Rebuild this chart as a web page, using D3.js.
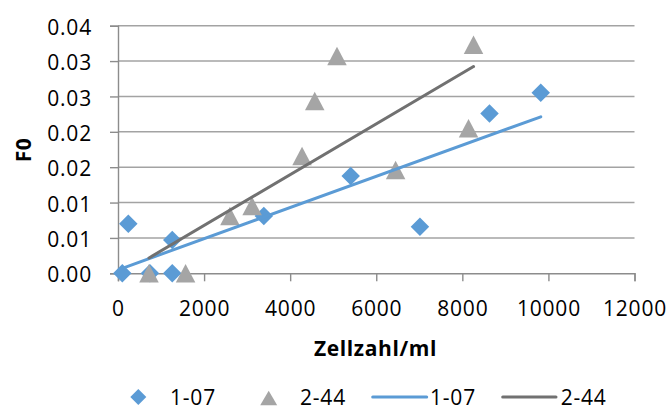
<!DOCTYPE html>
<html>
<head>
<meta charset="utf-8">
<script src="https://cdn.jsdelivr.net/npm/d3@7"></script>
<style>
  html, body { margin: 0; padding: 0; background: #fff; }
  svg { display: block; }
  text { font-family: "Open Sans", "Noto Sans", sans-serif; fill: #000; }
</style>
</head>
<body>
<svg id="chart" width="670" height="410"></svg>
<script>
// ---- data ----
const series1Name = "1-07";
const series1X = [100, 240, 742, 1260, 1260, 3388, 5406, 7015, 8631, 9822];
const series1Y = [0, 0.0070, 0, 0.0047, 0, 0.0081, 0.01376, 0.00659, 0.0226, 0.02553];

const series2Name = "2-44";
const series2X = [720, 1570, 2600, 3116, 4276, 4571, 5088, 6450, 8144, 8260];
const series2Y = [0, 0, 0.0081, 0.0095, 0.01658, 0.02436, 0.0307, 0.0146, 0.0205, 0.0323];

const xTickValues = [0, 2000, 4000, 6000, 8000, 10000, 12000];
const xTickLabels = ["0", "2000", "4000", "6000", "8000", "10000", "12000"];
const yTickValues = [0, 0.005, 0.01, 0.015, 0.02, 0.025, 0.03, 0.035];
const yTickLabels = ["0.00", "0.01", "0.01", "0.02", "0.02", "0.03", "0.03", "0.04"];

const xTitle = "Zellzahl/ml";
const yTitle = "F0";

// ---- layout ----
const svg = d3.select("#chart");
const pLeft = 118, pRight = 634.5, pTop = 25.7, pBottom = 273.3;
const x = d3.scaleLinear().domain([0, 12000]).range([pLeft, pRight]);
const y = d3.scaleLinear().domain([0, 0.035]).range([pBottom, pTop]);

const blue = "#5B9BD5", grayMarker = "#A5A5A5", grayLine = "#717171";
const gridColor = "#A3A3A3", axisColor = "#8C8C8C";
const fontSize = 21, ls = "0.8px";

// gridlines
svg.append("g").selectAll("line").data(yTickValues.slice(1)).join("line")
  .attr("x1", pLeft).attr("x2", pRight)
  .attr("y1", d => y(d)).attr("y2", d => y(d))
  .attr("stroke", gridColor).attr("stroke-width", 1.4);

// y axis
const yAxis = svg.append("g").attr("transform", `translate(${pLeft},0)`)
  .call(d3.axisLeft(y).tickValues(yTickValues).tickSize(8)
    .tickFormat((d, i) => yTickLabels[i]));
yAxis.select(".domain").attr("stroke", axisColor).attr("stroke-width", 1.4);
yAxis.selectAll(".tick line").attr("stroke", axisColor).attr("stroke-width", 1.4);
yAxis.selectAll(".tick text")
  .attr("x", -26).attr("dy", null).attr("y", 8.6)
  .style("font-family", '"Open Sans", sans-serif')
  .style("font-size", fontSize + "px").style("letter-spacing", ls)
  .attr("fill", "#000");

// x axis
const xAxis = svg.append("g").attr("transform", `translate(0,${pBottom})`)
  .call(d3.axisBottom(x).tickValues(xTickValues).tickSize(8)
    .tickFormat((d, i) => xTickLabels[i]));
xAxis.select(".domain").attr("stroke", axisColor).attr("stroke-width", 1.4);
xAxis.selectAll(".tick line").attr("stroke", axisColor).attr("stroke-width", 1.4);
xAxis.selectAll(".tick text")
  .attr("y", 42.3).attr("dy", null)
  .style("font-family", '"Open Sans", sans-serif')
  .style("font-size", fontSize + "px").style("letter-spacing", ls)
  .attr("fill", "#000");

// marker shapes
function diamondPath(s) {
  const h = s / 2;
  return `M0,${-h}L${h},0L0,${h}L${-h},0Z`;
}
function trianglePath(w, h) {
  return `M0,${-h / 2}L${w / 2},${h / 2}L${-w / 2},${h / 2}Z`;
}

const s1 = series1X.map((v, i) => ({ x: v, y: series1Y[i] }));
const s2 = series2X.map((v, i) => ({ x: v, y: series2Y[i] }));

svg.append("g").selectAll("path").data(s1).join("path")
  .attr("d", diamondPath(18.5))
  .attr("transform", d => `translate(${x(d.x)},${y(d.y)})`)
  .attr("fill", blue);

svg.append("g").selectAll("path").data(s2).join("path")
  .attr("d", trianglePath(19.5, 18.5))
  .attr("transform", d => `translate(${x(d.x)},${y(d.y)})`)
  .attr("fill", grayMarker);

// linear trendlines (least squares)
function fit(xs, ys) {
  const mx = d3.mean(xs), my = d3.mean(ys);
  let sxy = 0, sxx = 0;
  xs.forEach((v, i) => { sxy += (v - mx) * (ys[i] - my); sxx += (v - mx) * (v - mx); });
  const b = sxy / sxx, a = my - b * mx;
  const x0 = d3.min(xs), x1 = d3.max(xs);
  return [{ x: x0, y: a + b * x0 }, { x: x1, y: a + b * x1 }];
}
const line = d3.line().x(d => x(d.x)).y(d => y(d.y));
svg.append("path").datum(fit(series1X, series1Y)).attr("d", line)
  .attr("stroke", blue).attr("stroke-width", 3).attr("fill", "none")
  .attr("stroke-linecap", "round");
svg.append("path").datum(fit(series2X, series2Y)).attr("d", line)
  .attr("stroke", grayLine).attr("stroke-width", 3).attr("fill", "none")
  .attr("stroke-linecap", "round");

// axis titles
svg.append("text").text(xTitle)
  .attr("x", 375.5).attr("y", 356).attr("text-anchor", "middle")
  .style("font-size", fontSize + "px").style("font-weight", "bold")
  .style("letter-spacing", "0.6px");
svg.append("text").text(yTitle)
  .attr("transform", "translate(31,150) rotate(-90)").attr("text-anchor", "middle")
  .style("font-size", fontSize + "px").style("font-weight", "bold")
  .style("letter-spacing", "0.6px");

// legend
const lg = svg.append("g");
const ly = 397, lBase = 404.5;
lg.append("path").attr("d", diamondPath(16)).attr("transform", `translate(138.3,${ly})`).attr("fill", blue);
lg.append("text").text(series1Name).attr("x", 170).attr("y", lBase)
  .style("font-size", fontSize + "px").style("letter-spacing", ls);
lg.append("path").attr("d", trianglePath(17, 14.5)).attr("transform", `translate(268.7,${ly + 1})`).attr("fill", grayMarker);
lg.append("text").text(series2Name).attr("x", 300).attr("y", lBase)
  .style("font-size", fontSize + "px").style("letter-spacing", ls);
lg.append("line").attr("x1", 372.7).attr("x2", 426.7).attr("y1", ly).attr("y2", ly)
  .attr("stroke", blue).attr("stroke-width", 3).attr("stroke-linecap", "round");
lg.append("text").text(series1Name).attr("x", 430).attr("y", lBase)
  .style("font-size", fontSize + "px").style("letter-spacing", ls);
lg.append("line").attr("x1", 502.7).attr("x2", 556).attr("y1", ly).attr("y2", ly)
  .attr("stroke", grayLine).attr("stroke-width", 3).attr("stroke-linecap", "round");
lg.append("text").text(series2Name).attr("x", 560.7).attr("y", lBase)
  .style("font-size", fontSize + "px").style("letter-spacing", ls);
</script>
</body>
</html>
